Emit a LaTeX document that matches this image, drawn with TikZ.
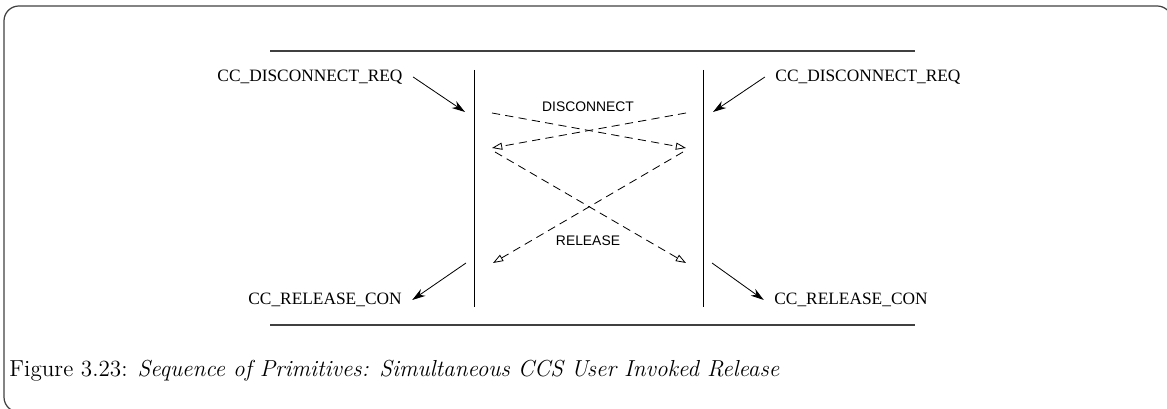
\documentclass[tikz,border=0pt]{standalone}
\usepackage{fontspec}
\newfontfamily\timesfont{Liberation Serif}
\newfontfamily\helvfont{Liberation Sans}
\usetikzlibrary{arrows.meta}
\tikzset{
	prim/.style={font=\timesfont\fontsize{8.5}{10}\selectfont,inner xsep=5pt,inner ysep=1pt},
	msglabel/.style={font=\helvfont\fontsize{6.8}{8}\selectfont,inner sep=0pt},
	lifeline/.style={line width=0.4pt},
	border/.style={line width=0.6pt,black!75},
	primarrow/.style={line width=0.4pt,-{Stealth[length=6.5pt,width=4pt]}},
	msgarrow/.style={line width=0.4pt,dash pattern=on 4pt off 2.6pt,-{Triangle[open,length=5pt,width=3.5pt]}}
}
\begin{document}
\begin{tikzpicture}[x=0.49pt,y=-0.49pt]
		\useasboundingbox (0,0) rectangle (1167,409);
		\clip (0,0) rectangle (1167,409);
		%cadre
		\draw[border,rounded corners=7.3pt] (1172,60)--(1172,6)--(4,6)--(4,412)--(60,412) ;
		%points
		\coordinate (lTop) at (474,70); \coordinate (lBot) at (474,307);
		\coordinate (rTop) at (703,70); \coordinate (rBot) at (703,307);
		\coordinate (hTopL) at (270,51); \coordinate (hTopR) at (915,51);
		\coordinate (hBotL) at (270,325); \coordinate (hBotR) at (915,325);
		\coordinate (reqLhit) at (465,112); \coordinate (reqRhit) at (713,112);
		\coordinate (conLout) at (466,263); \coordinate (conRout) at (712,263);
		\coordinate (dL1) at (492,113); \coordinate (dR1) at (686,113);
		\coordinate (dL2) at (492,148); \coordinate (dR2) at (686,148);
		\coordinate (dL2b) at (495,152); \coordinate (dR2b) at (683,152);
		\coordinate (dL3) at (493,263); \coordinate (dR3) at (686,263);
		%traits
		\draw[border] (hTopL)--(hTopR) ;
		\draw[border] (hBotL)--(hBotR) ;
		\draw[lifeline] (lTop)--(lBot) ; %gauche
		\draw[lifeline] (rTop)--(rBot) ; %droite
		%labels
		\foreach \Point/\Nom/\Texte in {(310,77)/reqL/CC\_DISCONNECT\_REQ,(868,77)/reqR/CC\_DISCONNECT\_REQ,(325,300)/conL/CC\_RELEASE\_CON,(851,300)/conR/CC\_RELEASE\_CON}
		\node[prim] (\Nom) at \Point {\Texte} ;
		\node[msglabel] (disc) at (588,107) {DISCONNECT} ;
		\node[msglabel] (rel) at (588,241) {RELEASE} ;
		%primitives
		\draw[primarrow] (reqL.east)--(reqLhit) ;
		\draw[primarrow] (reqR.west)--(reqRhit) ;
		\draw[primarrow] (conLout)--(conL.east) ;
		\draw[primarrow] (conRout)--(conR.west) ;
		%messages
		\draw[msgarrow] (dL1)--(dR2) ;
		\draw[msgarrow] (dR1)--(dL2) ;
		\draw[msgarrow] (dL2b)--(dR3) ;
		\draw[msgarrow] (dR2b)--(dL3) ;
		%legende
		\node[anchor=base west,inner sep=0pt,font=\fontsize{11.35}{13}\selectfont] (caption) at (9,377) {Figure 3.23: \textit{Sequence of Primitives: Simultaneous CCS User Invoked Release}} ;
	\end{tikzpicture}
\end{document}
